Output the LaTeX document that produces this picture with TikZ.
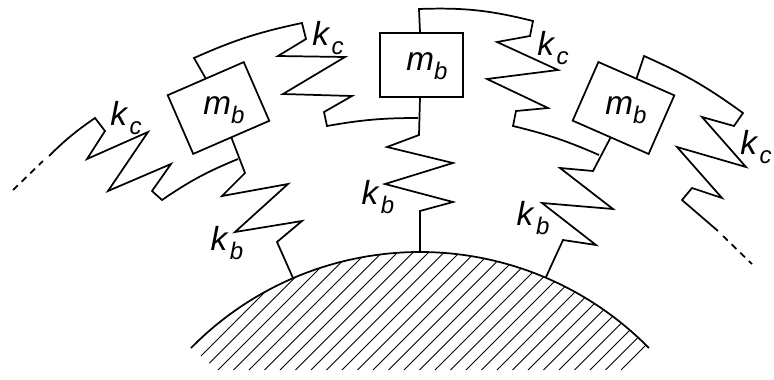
\documentclass[tikz,border=0pt]{standalone}
\usepackage{fontspec}
\setmainfont{Liberation Sans}
\newcommand{\symlabel}[2]{\textit{#1}\raisebox{-0.28em}{\fontsize{18}{18}\selectfont\textit{#2}}}
\tikzset{
	massbox/.style={draw, line width=1.3pt, minimum width=62.2pt, minimum height=48pt, inner sep=0pt},
	springline/.style={line width=1.3pt, line join=miter},
	dashline/.style={line width=1.3pt, dash pattern=on 5pt off 4pt},
	hatchline/.style={line width=0.55pt},
	symtext/.style={anchor=center, inner sep=0pt, font=\fontsize{25}{25}\selectfont}
}
\begin{document}
\begin{tikzpicture}[x=0.75pt, y=-0.75pt]
	\useasboundingbox (0, 0) rectangle (774, 379);
	% Masses and ground points:
	\node[massbox, rotate=23.5](M1) at (218.5, 108){} node[symtext](L1) at (224, 110){\symlabel{m}{b}};
	\node[massbox](M2) at (421.5, 65){} node[symtext](L2) at (427, 66){\symlabel{m}{b}};
	\node[massbox, rotate=-23.7](M3) at (623.5, 108){} node[symtext](L3) at (626, 110){\symlabel{m}{b}};
	\coordinate (G1) at (293, 278);
	\coordinate (G2) at (420, 252);
	\coordinate (G3) at (546, 277);
	\coordinate (GL) at (191, 348);
	\coordinate (GR) at (649, 348);
	\coordinate (E1) at (13, 190);
	\coordinate (E2) at (752, 264);
	% Ground:
	\begin{scope}
		\clip (GL) arc[start angle=224.5, end angle=315.5, radius=321] -- (622, 370) -- (218, 370) -- cycle;
		\foreach \i in {-2,...,30}
			\draw[hatchline] (218 + 15.5*\i, 370) -- ++(240, -240);
	\end{scope}
	\draw[springline] (GL) arc[start angle=224.5, end angle=315.5, radius=321];
	% Springs to the ground:
	\draw[springline] (M1.south) -- (245, 173) -- (222, 196) -- (288, 184) -- (235, 232) -- (302, 221) -- (277, 242) -- (G1);
	\draw[springline] (M2.south -| G2) -- (419, 135) -- (387, 147) -- (453, 163) -- (385, 184) -- (453, 202) -- (420, 211) -- (G2);
	\draw[springline] (M3.south) -- (593, 171) -- (560, 168) -- (613, 209) -- (542, 203) -- (596, 245) -- (563, 240) -- (G3);
	% Springs between the masses:
	\draw[dashline] (E1) -- (43, 161);
	\draw[springline] (49, 156) to[bend left=5] (95, 118) -- (105, 131) -- (87, 159) -- (148, 132) -- (108, 191) -- (171, 164) -- (152, 191) -- (162, 200) to[bend left=6] (238, 159);
	\draw[springline] (M1.north) -- (194, 58) to[bend left=6] (302, 23) -- (306, 39) -- (278, 56) -- (345, 57) -- (283, 94) -- (352, 96) -- (324, 112) -- (327, 126) to[bend left=5] (418, 118);
	\draw[springline] (M2.north -| G2) -- (419, 9) to[bend left=8] (533, 21) -- (530, 36) -- (497, 42) -- (558, 70) -- (487, 79) -- (548, 108) -- (516, 111) -- (513, 126) to[bend left=5] (599, 155);
	\draw[springline] (M3.north) -- (644, 56) to[bend left=6] (743, 113) -- (734, 126) -- (702, 117) -- (746, 167) -- (677, 147) -- (722, 198) -- (692, 188) -- (682, 200) -- (718, 231);
	\draw[dashline] (723, 236) -- (E2);
	% Labels:
	\node[symtext](K1) at (126, 118){\symlabel{k\kern0.08em}{c}};
	\node[symtext](K2) at (328, 38){\symlabel{k\kern0.08em}{c}};
	\node[symtext](K3) at (553, 48){\symlabel{k\kern0.08em}{c}};
	\node[symtext](K4) at (756, 147){\symlabel{k\kern0.08em}{c}};
	\node[symtext](B1) at (227, 243){\symlabel{k\kern0.08em}{b}};
	\node[symtext](B2) at (378, 197){\symlabel{k\kern0.08em}{b}};
	\node[symtext](B3) at (533, 218){\symlabel{k\kern0.08em}{b}};
\end{tikzpicture}
\end{document}
